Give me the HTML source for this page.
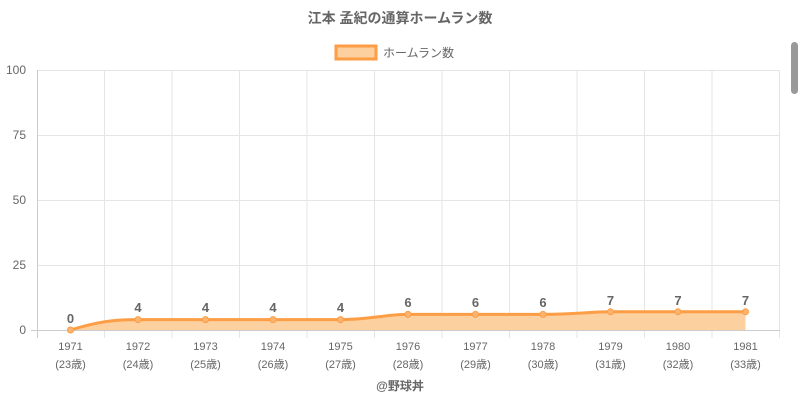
<!DOCTYPE html>
<html><head><meta charset="utf-8"><style>
body{margin:0;background:#fff;width:800px;height:400px;overflow:hidden}
text{font-family:"Liberation Sans","Noto Sans CJK JP",sans-serif}
</style></head><body>
<svg width="800" height="400" xmlns="http://www.w3.org/2000/svg">
<text x="400" y="23" text-anchor="middle" font-size="14" font-weight="bold" fill="#666">江本 孟紀の通算ホームラン数</text>
<rect x="336" y="46" width="40" height="13" fill="#fdd0a0" stroke="#fd9d45" stroke-width="3"/>
<text x="383" y="57" font-size="12" fill="#666">ホームラン数</text>
<rect x="791" y="42" width="7" height="52" rx="3.5" fill="#999"/>
<g stroke="#e5e5e5" stroke-width="1">
<line x1="37" y1="70.5" x2="780" y2="70.5"/>
<line x1="37" y1="135.5" x2="780" y2="135.5"/>
<line x1="37" y1="200.5" x2="780" y2="200.5"/>
<line x1="37" y1="265.5" x2="780" y2="265.5"/>
<line x1="104.5" y1="70" x2="104.5" y2="338"/>
<line x1="172" y1="70" x2="172" y2="338"/>
<line x1="239.5" y1="70" x2="239.5" y2="338"/>
<line x1="307" y1="70" x2="307" y2="338"/>
<line x1="374.5" y1="70" x2="374.5" y2="338"/>
<line x1="442" y1="70" x2="442" y2="338"/>
<line x1="509.5" y1="70" x2="509.5" y2="338"/>
<line x1="577" y1="70" x2="577" y2="338"/>
<line x1="644.5" y1="70" x2="644.5" y2="338"/>
<line x1="712" y1="70" x2="712" y2="338"/>
<line x1="779.5" y1="70" x2="779.5" y2="338"/>
</g>
<line x1="37.5" y1="70" x2="37.5" y2="338" stroke="#ccc"/>
<line x1="31" y1="330.5" x2="780" y2="330.5" stroke="#ccc"/>
<g font-size="12" fill="#666" text-anchor="end">
<text x="26" y="74">100</text><text x="26" y="139">75</text><text x="26" y="204">50</text><text x="26" y="269">25</text><text x="26" y="334">0</text>
</g>
<path d="M70.5,330 C100,321 115,319.6 138,319.6 L340.5,319.6 C370,319.6 385,314.4 408,314.4 L543,314.4 C575,314.4 590,311.8 610.5,311.8 L745.5,311.8 L745.5,330 Z" fill="#fdd0a0"/>
<path d="M70.5,330 C100,321 115,319.6 138,319.6 L340.5,319.6 C370,319.6 385,314.4 408,314.4 L543,314.4 C575,314.4 590,311.8 610.5,311.8 L745.5,311.8" fill="none" stroke="#fd9d45" stroke-width="3"/>
<g fill="#fdb46e" stroke="#fd9d45">
<circle cx="70.5" cy="330" r="3"/><circle cx="138" cy="319.6" r="3"/><circle cx="205.5" cy="319.6" r="3"/><circle cx="273" cy="319.6" r="3"/><circle cx="340.5" cy="319.6" r="3"/><circle cx="408" cy="314.4" r="3"/><circle cx="475.5" cy="314.4" r="3"/><circle cx="543" cy="314.4" r="3"/><circle cx="610.5" cy="311.8" r="3"/><circle cx="678" cy="311.8" r="3"/><circle cx="745.5" cy="311.8" r="3"/>
</g>
<g font-size="13" font-weight="bold" fill="#666" text-anchor="middle">
<text x="70.5" y="323">0</text><text x="138" y="312">4</text><text x="205.5" y="312">4</text><text x="273" y="312">4</text><text x="340.5" y="312">4</text><text x="408" y="307">6</text><text x="475.5" y="307">6</text><text x="543" y="307">6</text><text x="610.5" y="305">7</text><text x="678" y="305">7</text><text x="745.5" y="305">7</text>
</g>
<g font-size="11" fill="#666" text-anchor="middle">
<text x="70.5" y="350">1971</text><text x="70.5" y="368">(23歳)</text>
<text x="138" y="350">1972</text><text x="138" y="368">(24歳)</text>
<text x="205.5" y="350">1973</text><text x="205.5" y="368">(25歳)</text>
<text x="273" y="350">1974</text><text x="273" y="368">(26歳)</text>
<text x="340.5" y="350">1975</text><text x="340.5" y="368">(27歳)</text>
<text x="408" y="350">1976</text><text x="408" y="368">(28歳)</text>
<text x="475.5" y="350">1977</text><text x="475.5" y="368">(29歳)</text>
<text x="543" y="350">1978</text><text x="543" y="368">(30歳)</text>
<text x="610.5" y="350">1979</text><text x="610.5" y="368">(31歳)</text>
<text x="678" y="350">1980</text><text x="678" y="368">(32歳)</text>
<text x="745.5" y="350">1981</text><text x="745.5" y="368">(33歳)</text>
</g>
<text x="400" y="390" text-anchor="middle" font-size="12" font-weight="bold" fill="#666">@野球丼</text>
</svg>
</body></html>
